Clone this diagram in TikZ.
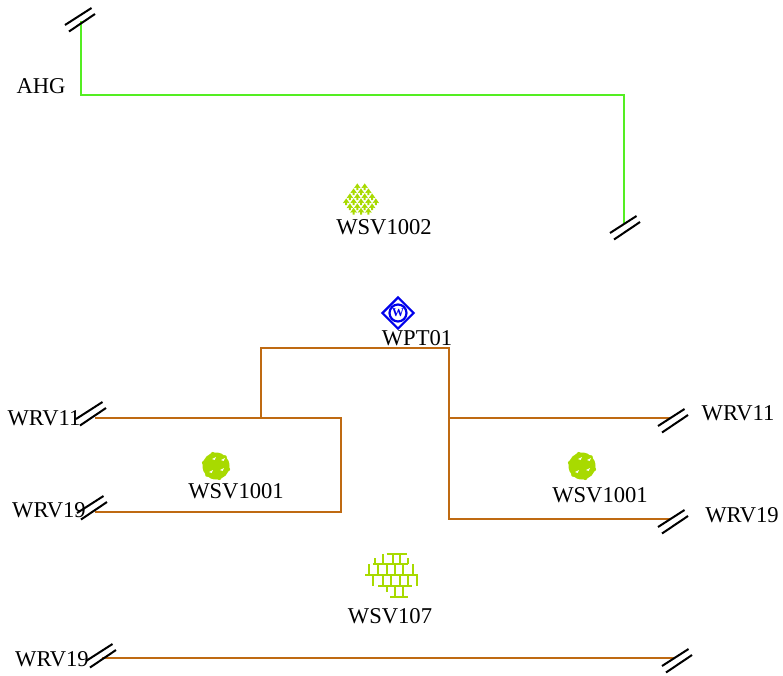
\documentclass[tikz,border=0pt]{standalone}
\usepackage{fontspec}
\setmainfont{Liberation Serif}
\definecolor{wirebrown}{RGB}{191,106,18}
\definecolor{wiregreen}{RGB}{84,238,34}
\definecolor{symgreen}{RGB}{168,218,0}
\definecolor{symblue}{RGB}{0,0,235}

\begin{document}
\begin{tikzpicture}[x=1pt,y=-1pt]

%-------------------------------------------------
% Styles
%-------------------------------------------------
\tikzset{
  tag/.style={inner sep=0pt, font=\fontsize{22.6}{24}\selectfont},
  greenwire/.style={draw=wiregreen, line width=2pt},
  brownwire/.style={draw=wirebrown, line width=1.9pt},
  hatch/.style={draw=black, line width=2pt},
  brick/.style={draw=symgreen, line width=2.2pt},
  hatchpair/.pic={
    \draw[hatch] (-15,5) -- (11.5,-12);
    \draw[hatch] (-11,11.5) -- (15,-6);
  },
  shrub/.pic={
    \fill[symgreen] (0,-3.6) -- (3.4,1.2) -- (1,0.6) -- (1,3) -- (-1,3) -- (-1,0.6) -- (-3.4,1.2) -- cycle;
  },
  bush/.pic={
    \fill[symgreen] (0,0) circle (13.5);
    \foreach \a in {15,75,...,345} {
      \fill[symgreen] (\a:12.5) circle (2);
    }
    \foreach \p/\q in {-4/-7,5/-6,-7/6,4/4} {
      \fill[white] (\p,\q) -- ++(4,-2) -- ++(-1.4,3) -- cycle;
    }
  }
}

\useasboundingbox (0,0) rectangle (783,675);

%-------------------------------------------------
% Wire corners and ends
%-------------------------------------------------
\coordinate (ahgtop) at (81,21);
\coordinate (ahgcorner) at (81,95);
\coordinate (ahgturn) at (624,95);
\coordinate (ahgend) at (624,223);

\coordinate (wl11) at (95,418);
\coordinate (wl19) at (95,512);
\coordinate (loopa) at (341,418);
\coordinate (loopb) at (341,512);
\coordinate (risefoot) at (261,418);
\coordinate (risetop) at (261,348);
\coordinate (droptop) at (449,348);
\coordinate (dropmid) at (449,418);
\coordinate (dropfoot) at (449,519);
\coordinate (wr11) at (670,418);
\coordinate (wr19) at (670,519);

\coordinate (wb19) at (102,658);
\coordinate (wbend) at (675,658);

%-------------------------------------------------
% Green wire
%-------------------------------------------------
\draw[greenwire] (ahgtop) -- (ahgcorner) -- (ahgturn) -- (ahgend);

%-------------------------------------------------
% Brown wires
%-------------------------------------------------
\draw[brownwire] (wl11) -- (loopa) -- (loopb) -- (wl19);
\draw[brownwire] (risefoot) -- (risetop) -- (droptop) -- (dropfoot) -- (wr19);
\draw[brownwire] (dropmid) -- (wr11);
\draw[brownwire] (wb19) -- (wbend);

%-------------------------------------------------
% Double hatch marks
%-------------------------------------------------
\pic at (80,20) {hatchpair};
\pic at (625,228) {hatchpair};
\pic at (91,414) {hatchpair};
\pic at (92,508) {hatchpair};
\pic at (673,421) {hatchpair};
\pic at (673,522) {hatchpair};
\pic at (101,656) {hatchpair};
\pic at (677,661) {hatchpair};

%-------------------------------------------------
% Symbols
%-------------------------------------------------
% Shrub field
\foreach \y/\n in {187/2,192/3,197/4,202/5,207/4,211.5/3} {
  \pgfmathtruncatemacro{\m}{\n-1}
  \foreach \k in {0,...,\m} {
    \pic at ({361+(\k-\m/2)*7.4},{\y}) {shrub};
  }
}

% Round bushes
\pic at (216,466) {bush};
\pic at (582,466) {bush};

% Well marker
\node[draw=symblue, line width=2.2pt, minimum size=22pt, inner sep=0pt, rotate=45] (wptmark) at (398,313) {};
\node[draw=symblue, circle, line width=2.2pt, minimum size=17pt, inner sep=0pt, text=symblue, font=\fontsize{12}{12}\selectfont\bfseries] (wptdot) at (398,313) {W};

% Brick patch
\begin{scope}[shift={(340,540)}, x=0.3333pt, y=-0.3333pt]
  \foreach \ya/\xa/\xb in {42/140/200,72/100/205,105/75/235,138/115/215,170/150/205} {
    \draw[brick] (\xa,\ya) -- (\xb,\ya);
  }
  \foreach \xa/\ya/\yb in {128/42/72,160/42/72,180/42/72,105/55/72,205/55/72,
    88/72/105,115/72/105,140/72/105,165/72/105,190/72/105,218/72/105,
    100/105/138,128/105/138,153/105/138,180/105/138,205/105/138,232/105/138,
    142/138/155,165/138/170,190/138/170} {
    \draw[brick] (\xa,\ya) -- (\xa,\yb);
  }
\end{scope}

%-------------------------------------------------
% Labels
%-------------------------------------------------
\node[tag] (ahg) at (41,86) {AHG};
\node[tag] (wsvtop) at (384,227) {WSV1002};
\node[tag] (wpt) at (417,338) {WPT01};
\node[tag] (lefteleven) at (44,418) {WRV11};
\node[tag] (leftnineteen) at (49,510) {WRV19};
\node[tag] (wsvleft) at (236,491) {WSV1001};
\node[tag] (righteleven) at (738,413) {WRV11};
\node[tag] (wsvright) at (600,495) {WSV1001};
\node[tag] (rightnineteen) at (742,515) {WRV19};
\node[tag] (wsvbrick) at (390,616) {WSV107};
\node[tag] (lownineteen) at (52,659) {WRV19};

\end{tikzpicture}
\end{document}
